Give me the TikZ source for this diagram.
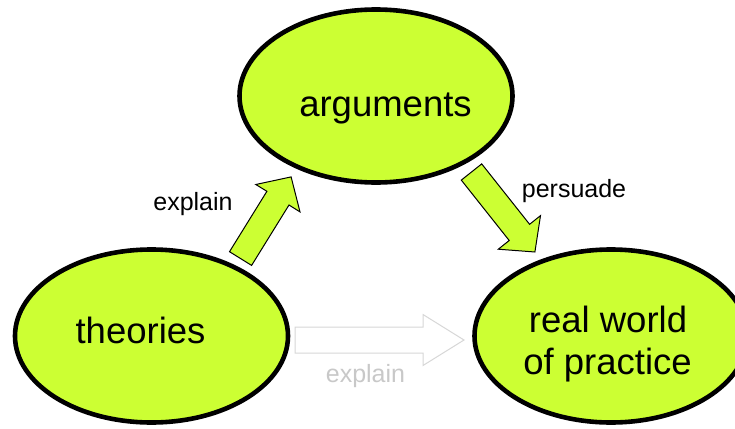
\documentclass[tikz,border=0pt]{standalone}
\usepackage{fontspec}
\setmainfont{Liberation Sans}
\usetikzlibrary{shapes.geometric}
\definecolor{lime}{RGB}{204,255,51}
\definecolor{ghost}{RGB}{215,215,215}
\definecolor{ghosttext}{RGB}{200,200,200}
\tikzset{
  blob/.style={ellipse, draw=black, line width=4.6pt, fill=lime, minimum width=273pt, minimum height=173pt, inner sep=0pt},
  bigtext/.style={anchor=base, inner sep=0pt, font=\fontsize{36.5}{41}\selectfont},
  smalltext/.style={anchor=base, inner sep=0pt, font=\fontsize{25}{28}\selectfont},
  blockarrow/.style={draw=black, line width=1pt, fill=lime, line join=miter},
  ghostarrow/.style={draw=ghost, line width=1pt, fill=white, line join=miter}
}
\begin{document}
\begin{tikzpicture}[x=1pt,y=-1pt]
\useasboundingbox (0,0) rectangle (735,428);
\clip (0,0) rectangle (735,428);
% ellipses
\node[blob] (arg) at (376,96) {};
\node[blob] (theo) at (151.5,336) {};
\node[blob] (real) at (611,336) {};
% texts
\node[bigtext] (targ) at (385.5,116) {arguments};
\node[bigtext] (ttheo) at (140.5,343) {theories};
\node[bigtext] (treal1) at (608,332) {real world};
\node[bigtext] (treal2) at (607.5,374) {of practice};
% block arrow: theories -> arguments
\draw[blockarrow] (229.5,251.7) -- (266.9,191.3) -- (255.8,184.5) -- (291.1,176.9)
  -- (300,211.9) -- (289,205) -- (251.6,265.4) -- cycle;
% block arrow: arguments -> real world
\draw[blockarrow] (481.7,163.9) -- (529.6,224.3) -- (540.5,215.6) -- (534.9,252)
  -- (498.3,249.2) -- (509.2,240.5) -- (461.3,180.1) -- cycle;
% ghost arrow: theories -> real world
\draw[ghostarrow] (295,327) -- (423,327) -- (423,314.5) -- (464,340) -- (423,365.5)
  -- (423,353) -- (295,353) -- cycle;
% labels
\node[smalltext] (lexplain) at (193,210) {explain};
\node[smalltext] (lpersuade) at (574,197) {persuade};
\node[smalltext, text=ghosttext] (lghost) at (365.5,382) {explain};
\end{tikzpicture}
\end{document}
